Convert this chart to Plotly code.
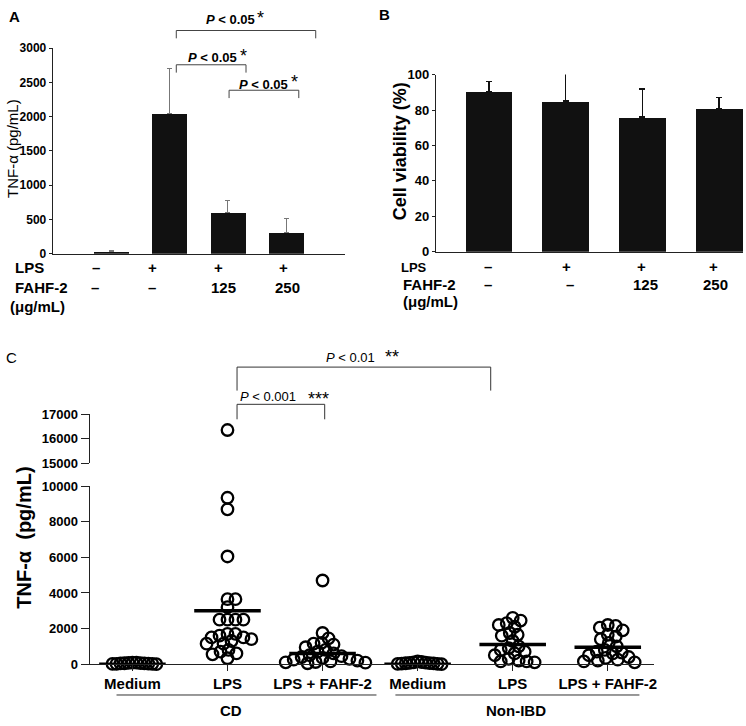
import plotly.graph_objects as go

W, H = 746, 726
FONT = "Liberation Sans, Arial, sans-serif"


def px(x):
    return x / W


def py(y):
    return 1 - y / H


# ---------------- data ----------------
# Panel A: TNF-alpha (pg/mL)
a_lps = ["–", "+", "+", "+"]
a_fahf = ["–", "–", "125", "250"]
a_tnf = [30, 2040, 600, 305]
a_tnf_err = [15, 660, 180, 215]

# Panel B: cell viability (%)
b_lps = ["–", "+", "+", "+"]
b_fahf = ["–", "–", "125", "250"]
b_viab = [90.5, 85, 76, 81]
b_viab_err = [5.5, 16.5, 16, 6]

# Panel C: TNF-alpha (pg/mL), individual subjects
c_labels = ["Medium", "LPS", "LPS + FAHF-2", "Medium", "LPS", "LPS + FAHF-2"]
c_groups = ["CD", "Non-IBD"]
cd_medium = [20, 60, 10, 90, 40, 0, 70, 30, 50, 80, 15, 45]
cd_lps = [16350, 9350, 8700, 6050, 3650, 3650, 3200, 2500, 2500, 2500, 2500,
          1700, 1700, 1600, 1500, 1500, 1400, 1300, 1150, 1150, 800, 700,
          600, 550, 330]
cd_lps_fahf = [4700, 1750, 1450, 1200, 1150, 1100, 950, 800, 700, 600, 500,
               450, 400, 350, 300, 250, 200, 150, 120, 100, 80, 50]
non_medium = [30, 150, 80, 0, 60, 120, 20, 100, 40, 70, 10, 50]
non_lps = [2600, 2450, 2300, 2200, 2100, 1750, 1650, 1600, 1300, 1000, 900,
           800, 700, 600, 500, 300, 200, 150, 150, 100]
non_lps_fahf = [2200, 2150, 2050, 1900, 1650, 1550, 1400, 1200, 1000, 800,
                700, 650, 600, 500, 400, 350, 250, 200, 150, 100]
c_values = [cd_medium, cd_lps, cd_lps_fahf, non_medium, non_lps, non_lps_fahf]
c_mean = [0, 3000, 600, 0, 1100, 950]

# ---------------- layout constants (pixels) ----------------
A_X0, A_X1, A_Y0, A_Y1 = 53, 346, 252, 42
B_X0, B_X1, B_Y0, B_Y1 = 437.7, 746, 250, 69
C_X0, C_X1 = 90, 657
C_LO_Y0, C_LO_Y1 = 671, 489.3
C_HI_Y0, C_HI_Y1 = 465.7, 415.7
C_XRANGE = [-0.45, 5.49]
C_LO_RANGE = [0, 10000]
C_HI_RANGE = [15000, 17000]
SWARM_GAP = [4, 8, 8, 4, 8, 8]  # px spacing for the beeswarm per group


def swarm(vals, unit_px, min_d=8.0, step=1.0):
    """simple beeswarm: returns horizontal pixel offsets"""
    order = sorted(range(len(vals)), key=lambda i: -vals[i])
    placed = []
    offs = [0.0] * len(vals)
    for i in order:
        yv = vals[i] * unit_px
        k = 0
        while True:
            cands = [0.0] if k == 0 else [k * step, -k * step]
            ok = None
            for c in cands:
                if all((c - ox) ** 2 + (yv - oy) ** 2 >= min_d ** 2 for ox, oy in placed):
                    ok = c
                    break
            if ok is not None:
                offs[i] = ok
                placed.append((ok, yv))
                break
            k += 1
    return offs


fig = go.Figure()

# Panel A bars
fig.add_trace(go.Bar(
    x=list(range(len(a_tnf))), y=a_tnf, width=0.6,
    marker=dict(color="#111111", line=dict(width=0)),
    error_y=dict(type="data", symmetric=False, array=a_tnf_err,
                 arrayminus=[0] * len(a_tnf), color="#777777", thickness=1, width=2.5),
    xaxis="x", yaxis="y", showlegend=False, hoverinfo="skip"))

# Panel B bars
fig.add_trace(go.Bar(
    x=list(range(len(b_viab))), y=b_viab, width=0.61,
    marker=dict(color="#111111", line=dict(width=0)),
    error_y=dict(type="data", symmetric=False, array=b_viab_err,
                 arrayminus=[0] * len(b_viab), color="#111111", thickness=1.5, width=3),
    xaxis="x2", yaxis="y2", showlegend=False, hoverinfo="skip"))

# Panel C scatter
cat_px = (C_X1 - C_X0) / (C_XRANGE[1] - C_XRANGE[0])
lo_unit = (C_LO_Y0 - C_LO_Y1) / (C_LO_RANGE[1] - C_LO_RANGE[0])
marker = dict(symbol="circle-open", size=11.5, color="black", line=dict(width=2.3, color="black"))
for gi, vals in enumerate(c_values):
    lo = [v for v in vals if v <= C_LO_RANGE[1]]
    hi = [v for v in vals if v >= C_HI_RANGE[0]]
    offs = swarm(lo, lo_unit, min_d=SWARM_GAP[gi])
    fig.add_trace(go.Scatter(
        x=[gi + o / cat_px for o in offs], y=lo, mode="markers", marker=marker,
        xaxis="x3", yaxis="y3", cliponaxis=False, showlegend=False, hoverinfo="skip"))
    if hi:
        fig.add_trace(go.Scatter(
            x=[gi] * len(hi), y=hi, mode="markers", marker=marker,
            xaxis="x3", yaxis="y4", cliponaxis=False, showlegend=False, hoverinfo="skip"))
    fig.add_trace(go.Scatter(
        x=[gi - 0.35, gi + 0.35], y=[c_mean[gi]] * 2, mode="lines",
        line=dict(color="black", width=3.5),
        xaxis="x3", yaxis="y3", cliponaxis=False, showlegend=False, hoverinfo="skip"))

axis_common = dict(showgrid=False, zeroline=False, showline=True,
                   linecolor="#222222", linewidth=1.2, fixedrange=True)
tick_bold = lambda s: dict(family=FONT, size=s, color="black", weight="bold")

fig.update_layout(
    width=W, height=H, margin=dict(l=0, r=0, t=0, b=0),
    paper_bgcolor="white", plot_bgcolor="white",
    bargap=0,
    xaxis=dict(domain=[px(A_X0), px(A_X1)], range=[-1, 4], showticklabels=False,
               ticks="", anchor="y", **axis_common),
    yaxis=dict(domain=[py(A_Y0), py(A_Y1)], range=[0, 3000], dtick=500,
               ticks="outside", ticklen=3, tickcolor="#222222",
               tickfont=tick_bold(12), anchor="x", **axis_common),
    xaxis2=dict(domain=[px(B_X0), px(B_X1)], range=[-0.69, 3.31], showticklabels=False,
                ticks="", anchor="y2", **axis_common),
    yaxis2=dict(domain=[py(B_Y0), py(B_Y1)], range=[0, 100], dtick=20,
                ticks="outside", ticklen=3, tickcolor="#222222",
                tickfont=tick_bold(13), anchor="x2", **axis_common),
    xaxis3=dict(domain=[px(C_X0), px(C_X1)], range=C_XRANGE,
                tickvals=list(range(len(c_labels))), ticktext=c_labels,
                ticks="outside", ticklen=6, tickcolor="#222222",
                tickfont=tick_bold(15), anchor="y3", **axis_common),
    yaxis3=dict(domain=[py(C_LO_Y0), py(C_LO_Y1)], range=C_LO_RANGE, dtick=2000,
                tickformat="d", ticks="outside", ticklen=8, tickcolor="#222222",
                tickfont=tick_bold(13), anchor="x3", **axis_common),
    yaxis4=dict(domain=[py(C_HI_Y0), py(C_HI_Y1)], range=C_HI_RANGE, dtick=1000,
                tickformat="d", ticks="outside", ticklen=8, tickcolor="#222222",
                tickfont=tick_bold(13), anchor="x3", **axis_common),
)


def ann(text, x, y, size=13, bold=False, xanchor="center", angle=0):
    return dict(text=text, x=px(x), y=py(y), xref="paper", yref="paper",
                showarrow=False, xanchor=xanchor, yanchor="middle", textangle=angle,
                font=dict(family=FONT, size=size, color="black",
                          weight="bold" if bold else "normal"))


anns = []
# panel letters
anns += [ann("A", 7, 10, 15, True, "left"), ann("B", 379, 8, 15, True, "left"),
         ann("C", 4, 358, 15, False, "left")]
# axis titles
anns.append(ann("TNF-α (pg/mL)", 12, 144, 15, False, angle=-90))
anns.append(ann("Cell viability (%)", 402, 147, 18, True, angle=-90))
anns.append(ann("TNF-α  (pg/mL)", 24, 542, 20, True, angle=-90))

# panel A condition rows
a_lps_x = [96, 153, 219, 285]
a_fahf_x = [95, 153, 224, 289]
anns += [ann("LPS", 13, 266, 15, True, "left"), ann("FAHF-2", 13, 286, 15, True, "left"),
         ann("(μg/mL)", 8, 306, 15, True, "left")]
for t, x in zip(a_lps, a_lps_x):
    anns.append(ann(t, x, 266, 15, True))
for t, x in zip(a_fahf, a_fahf_x):
    anns.append(ann(t, x, 286, 15, True))

# panel B condition rows
b_lps_x = [490, 569, 644, 716]
b_fahf_x = [490, 572, 648, 718]
anns += [ann("LPS", 401, 266, 13, True, "left"), ann("FAHF-2", 403, 283, 15, True, "left"),
         ann("(μg/mL)", 403, 301, 15, True, "left")]
for t, x in zip(b_lps, b_lps_x):
    anns.append(ann(t, x, 265, 15, True))
for t, x in zip(b_fahf, b_fahf_x):
    anns.append(ann(t, x, 283, 15, True))

# panel A significance
for (tx, ty, sx, sy) in [(231, 13, 262, 8), (213, 52, 244, 47), (265, 79, 296, 74)]:
    anns.append(ann("<i>P</i> < 0.05", tx, ty, 13, True))
    anns.append(ann("*", sx, sy + 3, 18, False))

# panel C significance
anns.append(ann("<i>P</i> < 0.01", 352, 358, 13, False))
anns.append(ann("**", 394, 357, 18, False))
anns.append(ann("<i>P</i> < 0.001", 269, 398, 13, False))
anns.append(ann("***", 320, 400, 18, False))

# panel C group labels
anns.append(ann("CD", 232, 718, 15, True))
anns.append(ann("Non-IBD", 518, 718, 15, True))

fig.update_layout(annotations=anns)


def bracket(x1, x2, ytop, yb1, yb2, color="#444444"):
    return dict(type="path", xref="paper", yref="paper",
                path=f"M {px(x1)},{py(yb1)} L {px(x1)},{py(ytop)} L {px(x2)},{py(ytop)} L {px(x2)},{py(yb2)}",
                line=dict(color=color, width=1))


shapes = [
    bracket(177, 317, 24, 32, 32),
    bracket(177, 247, 59, 67, 67),
    bracket(230, 300, 85, 93, 93),
    bracket(238, 492.7, 367.7, 391.7, 391.7, "#333333"),
    bracket(238, 326, 405.7, 421, 421, "#333333"),
    dict(type="line", xref="paper", yref="paper", x0=px(117), x1=px(378),
         y0=py(702.5), y1=py(702.5), line=dict(color="#333333", width=1)),
    dict(type="line", xref="paper", yref="paper", x0=px(397), x1=px(642),
         y0=py(702.5), y1=py(702.5), line=dict(color="#333333", width=1)),
]
fig.update_layout(shapes=shapes)

fig.write_html(
    "out.html",
    config={"displayModeBar": False},
    post_script=("document.body.style.margin='0';"
                 "document.body.style.overflow='hidden';"
                 "document.documentElement.style.overflow='hidden';"),
)
